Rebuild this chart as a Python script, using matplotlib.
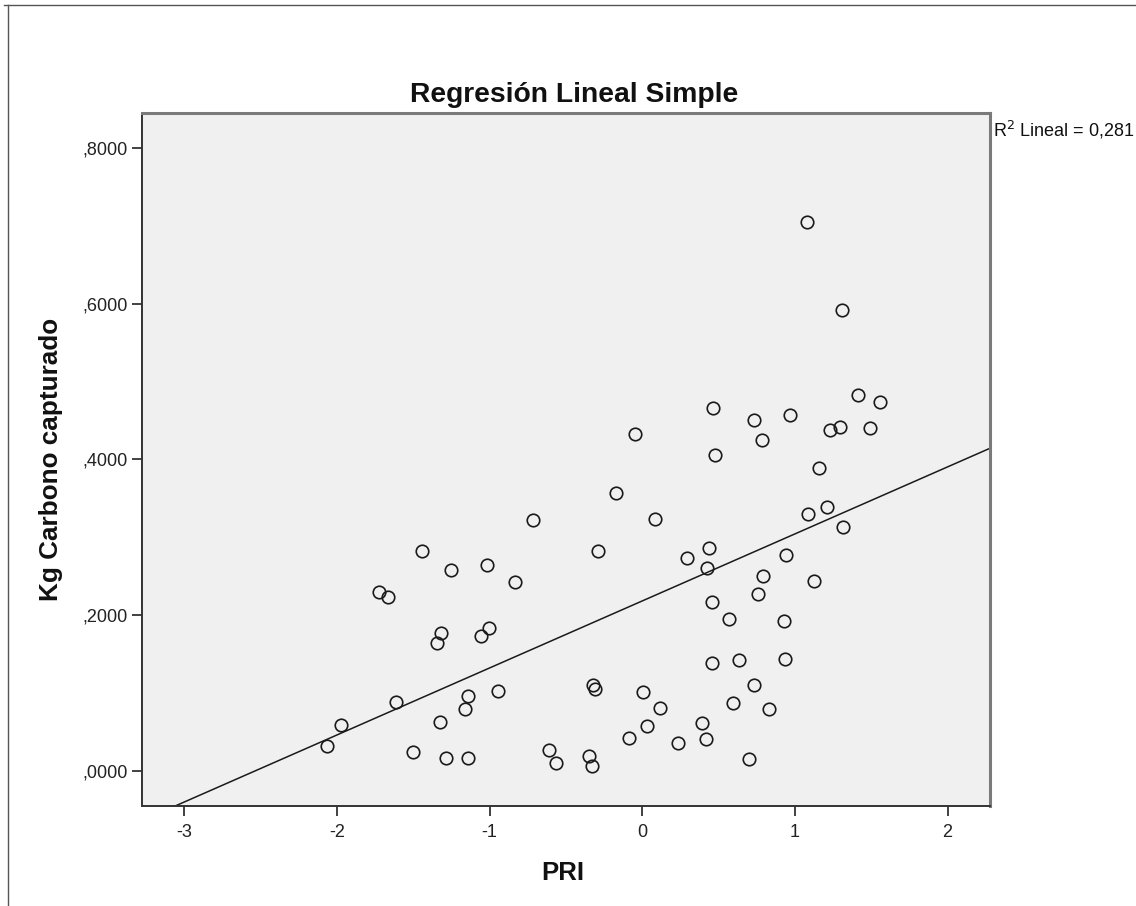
import numpy as np
import matplotlib
matplotlib.use("Agg")
import matplotlib.pyplot as plt
from matplotlib.lines import Line2D
from matplotlib.ticker import FuncFormatter

plt.rcParams['font.family'] = ['Liberation Sans', 'DejaVu Sans']

# PRI (x) and Kg Carbono capturado (y)
pri = [-2.063, -1.971, -1.614, -1.501, -1.324, -1.288, -1.162, -1.140, -1.139, -0.947,
       -0.613, -0.567, -0.348, -0.330, -0.325, -0.307, -0.172, -0.714, 0.085, -1.444,
       -0.288, -1.256, -1.020, -0.836, -1.723, -1.666, -1.321, -1.343, -1.007, -1.059,
       0.007, 0.114, 0.029, -0.085, 0.233, 1.315, 0.291, 0.440, 0.423, 0.942,
       0.793, 1.125, 0.756, 0.455, 0.566, 0.929, 0.457, 0.636, 0.935, 0.732,
       0.592, 0.832, 0.393, 0.415, 0.697, 1.077, 1.311, -0.045, 0.461, 0.476,
       0.734, 0.786, 0.970, 1.410, 1.558, 1.230, 1.296, 1.494, 1.160, 1.088,
       1.208]
carbono = [0.0325, 0.0588, 0.0892, 0.0244, 0.0635, 0.0167, 0.0796, 0.0967, 0.0163, 0.1031,
           0.0276, 0.0109, 0.0196, 0.0068, 0.1107, 0.1055, 0.3575, 0.3226, 0.3231, 0.2828,
           0.2818, 0.2584, 0.2648, 0.2426, 0.2298, 0.2238, 0.1772, 0.1639, 0.1836, 0.1737,
           0.1010, 0.0813, 0.0582, 0.0424, 0.0357, 0.3132, 0.2730, 0.2859, 0.2602, 0.2769,
           0.2499, 0.2436, 0.2276, 0.2173, 0.1951, 0.1926, 0.1390, 0.1429, 0.1442, 0.1100,
           0.0869, 0.0800, 0.0620, 0.0407, 0.0150, 0.7047, 0.5922, 0.4326, 0.4660, 0.4053,
           0.4510, 0.4253, 0.4574, 0.4827, 0.4733, 0.4374, 0.4416, 0.4403, 0.3886, 0.3303,
           0.3385]

x_ticks = [-3, -2, -1, 0, 1, 2]
y_ticks = [0.0, 0.2, 0.4, 0.6, 0.8]
r2_label = "R$^2$ Lineal = 0,281"

x = np.array(pri)
y = np.array(carbono)
slope, intercept = np.polyfit(x, y, 1)

W, H = 1136, 906
fig = plt.figure(figsize=(W / 100, H / 100), dpi=100)
ax = fig.add_axes([142 / W, 1 - 805.6 / H, (990 - 142) / W, (805.6 - 113) / H])
ax.set_facecolor('#f0f0f0')

xlim = (-3.278, 2.278)
ax.set_xlim(*xlim)
ax.set_ylim(-0.0444, 0.8447)

xs = np.array(xlim)
ax.plot(xs, intercept + slope * xs, color='#1a1a1a', lw=1.1)
ax.plot(x, y, 'o', ms=9, mfc='none', mec='#1a1a1a', mew=1.2, ls='none')

ax.set_xticks(x_ticks)
ax.set_yticks(y_ticks)
ax.xaxis.set_major_formatter(FuncFormatter(lambda v, p: f"{v:.0f}"))
ax.yaxis.set_major_formatter(FuncFormatter(lambda v, p: f"{v:.4f}".replace("0.", ",", 1)))
ax.tick_params(direction='out', length=7, width=1.3, color='#333333',
               labelsize=13, labelcolor='#222222')
ax.tick_params(axis='x', pad=6)
ax.tick_params(axis='y', pad=3)

for s in ['left', 'bottom']:
    ax.spines[s].set_color('#333333')
    ax.spines[s].set_linewidth(1.4)
for s in ['top', 'right']:
    ax.spines[s].set_color('#7a7a7a')
    ax.spines[s].set_linewidth(2.2)

fig.text(574 / W, 1 - 95 / H, "Regresión Lineal Simple", ha='center', va='center',
         fontsize=20.3, fontweight='bold', color='#111111')
fig.text(51 / W, 1 - 459 / H, "Kg Carbono capturado", ha='center', va='center',
         rotation=90, fontsize=18.8, fontweight='bold', color='#111111')
fig.text(563 / W, 1 - 873 / H, "PRI", ha='center', va='center',
         fontsize=18.5, fontweight='bold', color='#111111')
fig.text(993 / W, 1 - 119 / H, r2_label, ha='left', va='top', fontsize=13,
         color='#111111')

# outer chart frame (cropped)
fig.add_artist(Line2D([8 / W, 8 / W], [0, 1 - 5 / H], transform=fig.transFigure,
                      color='#555555', lw=1))
fig.add_artist(Line2D([4 / W, 1], [1 - 5 / H, 1 - 5 / H], transform=fig.transFigure,
                      color='#555555', lw=1))

fig.savefig("out.png", dpi=100)
